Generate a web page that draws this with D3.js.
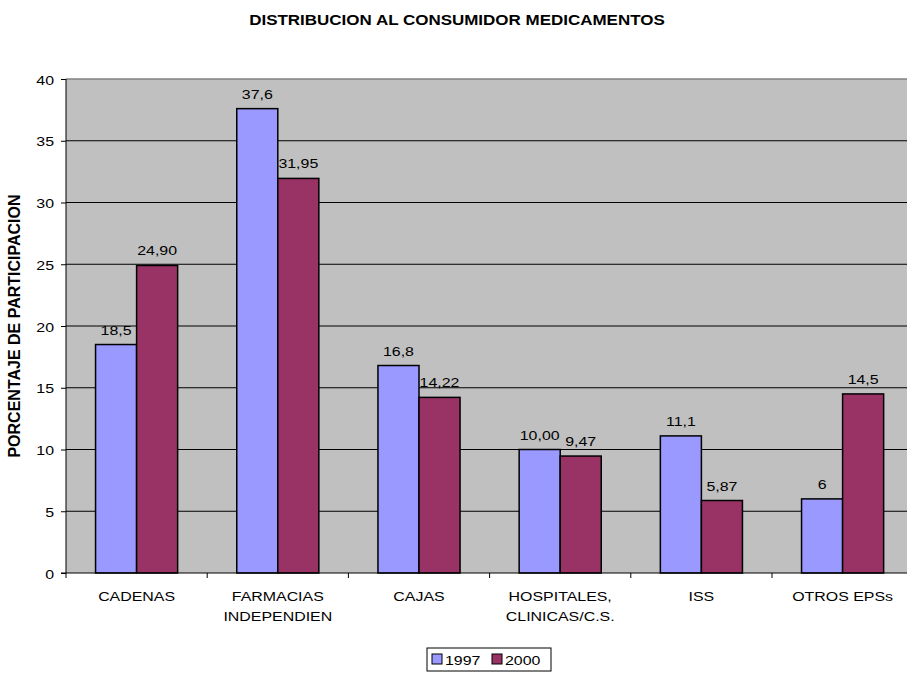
<!DOCTYPE html>
<html>
<head>
<meta charset="utf-8">
<script src="https://cdn.jsdelivr.net/npm/d3@7"></script>
<style>
  body { margin: 0; background: #fff; }
  svg { font-family: "Liberation Sans", Arial, sans-serif; }
</style>
</head>
<body>
<svg id="chart" width="907" height="673"></svg>
<script>
// chart data
var categories = ["CADENAS", "FARMACIAS\nINDEPENDIEN", "CAJAS", "HOSPITALES,\nCLINICAS/C.S.", "ISS", "OTROS EPSs"];
var seriesNames = ["1997", "2000"];
var values1997 = [18.5, 37.6, 16.8, 10.0, 11.1, 6];
var values2000 = [24.9, 31.95, 14.22, 9.47, 5.87, 14.5];
var labels1997 = ["18,5", "37,6", "16,8", "10,00", "11,1", "6"];
var labels2000 = ["24,90", "31,95", "14,22", "9,47", "5,87", "14,5"];
var yTicks = [0, 5, 10, 15, 20, 25, 30, 35, 40];
var colors = ["#9999FF", "#993366"];

var svg = d3.select("#chart");

// the original text looks a bit wide; keep size and widen it
var fs = 13.5, sx = 1.18;

// plot area (runs a little past the right edge, like the original)
var m = { left: 66, top: 79, bottom: 573 };
var catW = 141.2;
var plotRight = m.left + catW * categories.length;

var x = d3.scaleBand()
  .domain(categories)
  .range([m.left, plotRight]);

var inner = d3.scaleBand()
  .domain(seriesNames)
  .range([0, x.bandwidth()])
  .paddingOuter(0.72)
  .paddingInner(0);

var y = d3.scaleLinear().domain([0, 40]).range([m.bottom, m.top]);

function stretchText(sel, px, py) {
  return sel.attr("transform", "translate(" + px + "," + py + ") scale(" + sx + ",1)");
}

// background
svg.append("rect")
  .attr("x", m.left).attr("y", m.top)
  .attr("width", plotRight - m.left).attr("height", m.bottom - m.top)
  .attr("fill", "#C0C0C0");

// gridlines
svg.append("g").selectAll("line")
  .data(yTicks.filter(function(d) { return d > 0 && d < 40; }))
  .enter().append("line")
  .attr("x1", m.left).attr("x2", plotRight)
  .attr("y1", function(d) { return y(d); })
  .attr("y2", function(d) { return y(d); })
  .attr("stroke", "#000").attr("stroke-width", 1);

// top border
svg.append("line")
  .attr("x1", m.left).attr("x2", plotRight)
  .attr("y1", y(40)).attr("y2", y(40))
  .attr("stroke", "#808080").attr("stroke-width", 1.5);

// bars
var rows = categories.map(function(c, i) {
  return { cat: c, vals: [values1997[i], values2000[i]], labs: [labels1997[i], labels2000[i]] };
});

var groups = svg.append("g").selectAll("g")
  .data(rows)
  .enter().append("g")
  .attr("transform", function(d) { return "translate(" + x(d.cat) + ",0)"; });

var items = function(d) {
  return seriesNames.map(function(s, j) { return { s: s, v: d.vals[j], l: d.labs[j], j: j }; });
};

groups.selectAll("rect")
  .data(items)
  .enter().append("rect")
  .attr("x", function(d) { return inner(d.s); })
  .attr("y", function(d) { return y(d.v); })
  .attr("width", inner.bandwidth())
  .attr("height", function(d) { return y(0) - y(d.v); })
  .attr("fill", function(d) { return colors[d.j]; })
  .attr("stroke", "#000").attr("stroke-width", 1.5);

groups.selectAll("text.val")
  .data(items)
  .enter().append("text")
  .attr("class", "val")
  .attr("text-anchor", "middle")
  .attr("font-size", fs)
  .each(function(d) {
    stretchText(d3.select(this), inner(d.s) + inner.bandwidth() / 2, y(d.v) - 10);
  })
  .text(function(d) { return d.l; });

// y axis
var yAxis = d3.axisLeft(y).tickValues(yTicks).tickSize(5).tickPadding(0);
var ya = svg.append("g")
  .attr("transform", "translate(" + m.left + ",0)")
  .call(yAxis);
ya.select(".domain").attr("stroke", "#000").attr("d", "M0," + m.top + "V" + m.bottom);
ya.selectAll(".tick text")
  .attr("x", null).attr("dy", null)
  .attr("transform", "translate(-12,5) scale(" + sx + ",1)")
  .attr("font-size", fs).attr("fill", "#000")
  .attr("font-family", "Liberation Sans, Arial, sans-serif");

// x axis line and ticks between categories
svg.append("line")
  .attr("x1", m.left - 5).attr("x2", plotRight)
  .attr("y1", m.bottom).attr("y2", m.bottom)
  .attr("stroke", "#000");
svg.append("g").selectAll("line")
  .data(categories)
  .enter().append("line")
  .attr("x1", function(d) { return x(d); })
  .attr("x2", function(d) { return x(d); })
  .attr("y1", m.bottom).attr("y2", m.bottom + 5)
  .attr("stroke", "#000");

// category labels
svg.append("g").selectAll("text")
  .data(categories)
  .enter().append("text")
  .attr("text-anchor", "middle")
  .attr("font-size", fs)
  .each(function(d) {
    var t = stretchText(d3.select(this), x(d) + x.bandwidth() / 2, 601);
    d.split("\n").forEach(function(line, k) {
      t.append("tspan")
        .attr("x", 0)
        .attr("dy", k === 0 ? 0 : 20)
        .text(line);
    });
  });

// title
stretchText(svg.append("text"), 457, 25)
  .attr("text-anchor", "middle")
  .attr("font-size", 14.4).attr("font-weight", "bold")
  .text("DISTRIBUCION AL CONSUMIDOR MEDICAMENTOS");

// y axis title
svg.append("text")
  .attr("transform", "translate(20," + ((m.top + m.bottom) / 2) + ") rotate(-90)")
  .attr("text-anchor", "middle")
  .attr("font-size", 16).attr("font-weight", "bold")
  .text("PORCENTAJE DE PARTICIPACION");

// legend
var lg = svg.append("g").attr("transform", "translate(427,648)");
lg.append("rect")
  .attr("width", 124).attr("height", 23)
  .attr("fill", "#fff").attr("stroke", "#000");
seriesNames.forEach(function(s, j) {
  var ox = 5 + j * 60;
  lg.append("rect")
    .attr("x", ox).attr("y", 6).attr("width", 10).attr("height", 10)
    .attr("fill", colors[j]).attr("stroke", "#000");
  stretchText(lg.append("text"), ox + 13, 16.5)
    .attr("font-size", fs)
    .text(s);
});
</script>
</body>
</html>
